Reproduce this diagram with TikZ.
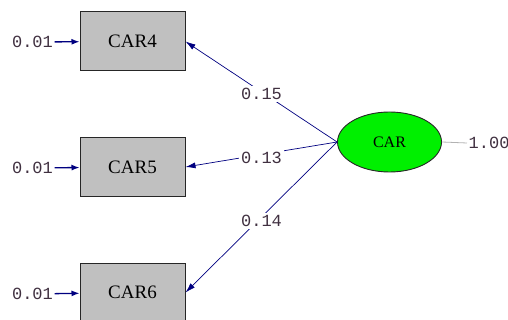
\documentclass[tikz,border=0pt]{standalone}
\usepackage{fontspec}
\setmainfont{Liberation Serif}
\newfontfamily\valfont{Liberation Mono}
\usetikzlibrary{shapes.geometric,arrows.meta}
\definecolor{pathblue}{HTML}{000080}
\definecolor{boxgray}{HTML}{C0C0C0}
\definecolor{latgreen}{HTML}{00F000}
\definecolor{valtext}{HTML}{403040}
\tikzset{
  obsbox/.style={draw=black!85, line width=1pt, fill=boxgray, minimum width=105pt, minimum height=59pt,
    inner sep=0pt, font=\fontsize{19}{19}\selectfont},
  latent/.style={ellipse, draw=black!85, line width=0.9pt, fill=latgreen, minimum width=104pt, minimum height=60pt,
    inner sep=0pt, font=\fontsize{16}{16}\selectfont},
  val/.style={text=valtext, inner sep=1.5pt, font=\valfont\fontsize{17}{17}\selectfont},
  lab/.style={val, fill=white, inner sep=2pt, xshift=1pt, yshift=-3pt},
  loading/.style={draw=pathblue, line width=0.7pt, -{Latex[length=10pt,width=6pt]}},
  errpath/.style={draw=pathblue, line width=1.3pt, -{Latex[length=8pt,width=6pt]}}
}
\begin{document}
\begin{tikzpicture}[x=1pt,y=-1pt]
  \useasboundingbox (0,0) rectangle (508,320);
  \clip (0,0) rectangle (508,320);
  % observed indicators
  \node[obsbox] (car4) at (132.5,41.5) {CAR4};
  \node[obsbox] (car5) at (132.5,167) {CAR5};
  \node[obsbox] (car6) at (132.5,292.5) {CAR6};
  % latent factor
  \node[latent] (car) at (389.5,142) {CAR};
  % error variances
  \node[val] (e4) at (32.5,42) {0.01};
  \node[val] (e5) at (32.5,168) {0.01};
  \node[val] (e6) at (32.5,294) {0.01};
  \draw[errpath] (e4) -- (car4);
  \draw[errpath] (e5) -- (car5);
  \draw[errpath] (e6) -- (car6);
  % factor variance
  \node[val, anchor=west] (v) at (467,143) {1.00};
  \draw[gray!60, line width=0.8pt] (car.east) -- (v.west);
  % loadings
  \draw[loading] (car.west) -- node[lab, pos=0.505] (l4) {0.15} (car4.east);
  \draw[loading] (car.west) -- node[lab, pos=0.505] (l5) {0.13} (car5.east);
  \draw[loading] (car.west) -- node[lab, pos=0.505] (l6) {0.14} (car6.east);
\end{tikzpicture}
\end{document}
